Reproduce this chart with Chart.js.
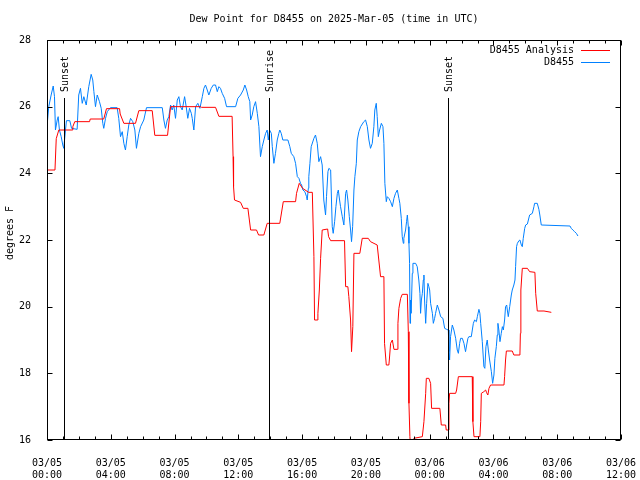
<!DOCTYPE html>
<html><head><meta charset="utf-8">
<script src="https://cdn.jsdelivr.net/npm/chart.js@4"></script>
<style>html,body{margin:0;padding:0;background:#fff}canvas{display:block}</style>
</head><body>
<canvas id="c" width="640" height="480"></canvas>
<script>
const titleText = 'Dew Point for D8455 on 2025-Mar-05 (time in UTC)';
const yTitle = 'degrees F';
const seriesNames = ['D8455 Analysis', 'D8455'];
const seriesColors = ['#ff0000', '#0080ff'];
const xTickDates = ['03/05','03/05','03/05','03/05','03/05','03/05','03/06','03/06','03/06','03/06'];
const xTickTimes = ['00:00','04:00','08:00','12:00','16:00','20:00','00:00','04:00','08:00','12:00'];
const eventHours = [1.07, 13.93, 25.16];
const eventLabels = ['Sunset', 'Sunrise', 'Sunset'];

// hours since 03/05 00:00 UTC
const analysisHours = [
0.00,0.50,0.58,0.74,1.58,1.62,1.74,2.67,2.71,3.56,
3.73,4.55,4.59,4.82,5.55,5.76,6.60,6.76,7.56,7.75,
9.63,9.69,10.57,10.78,11.61,11.67,11.70,11.76,12.14,12.31,
12.60,12.77,13.14,13.27,13.60,13.81,14.60,14.82,15.59,15.65,
15.82,16.03,16.41,16.64,16.74,16.78,16.95,16.99,17.08,17.16,
17.26,17.60,17.66,17.79,18.66,18.73,18.87,18.93,19.04,19.10,
19.18,19.25,19.62,19.77,20.15,20.29,20.71,20.92,21.13,21.17,
21.28,21.44,21.47,21.55,21.66,21.76,21.97,22.01,22.07,22.18,
22.28,22.60,22.66,22.70,22.76,22.80,22.99,23.01,23.54,23.64,
23.75,23.79,23.95,24.06,24.12,24.64,24.73,25.00,25.04,25.17,
25.21,25.25,25.63,25.69,25.80,26.67,26.71,26.78,27.15,27.20,
27.24,27.40,27.51,27.57,27.65,27.72,27.82,28.66,28.70,28.76,
28.81,29.18,29.28,29.66,29.69,29.72,29.81,30.13,30.27,30.60,
30.65,30.75,31.17,31.63];
const analysisValues = [
24.1,24.1,25.04,25.3,25.3,25.4,25.55,25.55,25.63,25.63,
25.94,25.94,25.78,25.5,25.5,25.88,25.88,25.14,25.14,26.0,
26.0,25.98,25.98,25.71,25.71,24.5,23.6,23.2,23.13,22.95,
22.95,22.3,22.3,22.15,22.15,22.5,22.5,23.15,23.15,23.4,
23.7,23.55,23.43,23.43,21.5,19.6,19.6,19.8,20.5,21.45,
22.3,22.33,22.1,21.98,21.98,20.6,20.6,20.3,19.6,18.65,
19.4,21.6,21.6,22.05,22.05,21.95,21.85,20.9,20.9,18.9,
18.25,18.25,18.4,18.9,19.0,18.72,18.72,19.5,19.95,20.25,
20.37,20.37,19.25,17.1,16.1,15.8,15.8,16.05,16.1,16.55,
17.4,17.85,17.85,17.7,16.95,16.95,16.45,16.45,16.3,16.3,
17.1,17.4,17.4,17.5,17.9,17.9,16.55,16.1,16.1,16.55,
17.4,17.45,17.5,17.42,17.35,17.55,17.65,17.65,17.9,18.4,
18.67,18.67,18.55,18.55,19.2,20.5,21.15,21.15,21.05,21.03,
20.4,19.87,19.87,19.83];

const obsHours = [
0.00,0.11,0.26,0.39,0.47,0.53,0.64,0.70,0.78,0.89,
0.99,1.05,1.16,1.22,1.43,1.54,1.89,1.99,2.10,2.21,
2.31,2.46,2.62,2.77,2.87,2.94,3.04,3.15,3.29,3.40,
3.50,3.56,3.67,3.78,3.98,4.40,4.50,4.61,4.72,4.82,
4.92,5.03,5.13,5.24,5.38,5.51,5.61,5.76,5.87,6.07,
6.24,7.23,7.33,7.43,7.54,7.64,7.75,7.85,7.95,8.06,
8.17,8.27,8.37,8.48,8.63,8.73,8.83,8.94,9.05,9.11,
9.21,9.32,9.46,9.59,9.74,9.84,9.94,10.05,10.15,10.30,
10.43,10.57,10.68,10.78,10.88,10.99,11.14,11.26,11.83,11.97,
12.14,12.31,12.41,12.52,12.62,12.72,12.77,12.87,12.97,13.08,
13.19,13.29,13.39,13.50,13.60,13.71,13.81,13.88,13.96,14.07,
14.13,14.23,14.33,14.44,14.54,14.60,14.69,14.79,15.11,15.23,
15.32,15.48,15.59,15.70,15.80,15.90,15.97,16.05,16.17,16.28,
16.32,16.39,16.42,16.49,16.57,16.74,16.84,16.95,17.05,17.16,
17.26,17.36,17.47,17.53,17.62,17.68,17.79,17.89,17.95,18.04,
18.12,18.21,18.27,18.35,18.41,18.52,18.62,18.73,18.79,18.87,
18.96,19.04,19.10,19.17,19.25,19.31,19.40,19.46,19.56,19.67,
19.87,19.98,20.09,20.19,20.29,20.40,20.50,20.56,20.65,20.71,
20.78,20.86,20.97,21.07,21.13,21.19,21.28,21.34,21.44,21.55,
21.66,21.76,21.86,21.97,22.07,22.13,22.22,22.28,22.35,22.38,
22.49,22.55,22.60,22.66,22.70,22.74,22.77,22.80,22.84,22.91,
22.95,23.12,23.22,23.32,23.39,23.43,23.48,23.54,23.60,23.64,
23.68,23.75,23.81,23.89,23.95,24.00,24.06,24.17,24.23,24.31,
24.37,24.48,24.58,24.69,24.83,24.94,25.06,25.17,25.21,25.25,
25.31,25.42,25.52,25.63,25.73,25.80,25.88,25.94,26.05,26.15,
26.25,26.32,26.40,26.46,26.61,26.74,26.82,26.93,26.99,27.09,
27.15,27.20,27.30,27.40,27.46,27.53,27.61,27.68,27.76,27.87,
27.95,28.03,28.09,28.18,28.24,28.28,28.34,28.41,28.49,28.56,
28.62,28.70,28.76,28.83,28.87,28.93,29.02,29.12,29.18,29.28,
29.35,29.39,29.45,29.50,29.60,29.66,29.75,29.81,29.87,29.96,
30.02,30.13,30.19,30.27,30.44,30.54,30.58,30.75,30.85,30.91,
31.00,32.80,32.88,32.98,33.09,33.20,33.30];
const obsValues = [
25.4,26.0,26.35,26.62,26.3,25.3,25.6,25.7,25.3,25.1,
24.85,24.75,25.3,25.58,25.58,25.35,25.32,26.35,26.55,26.1,
26.3,26.05,26.6,26.97,26.8,26.45,26.0,26.35,26.15,25.95,
25.5,25.35,25.65,25.85,25.97,25.97,25.65,25.1,25.25,24.9,
24.7,25.1,25.45,25.65,25.55,25.3,24.75,25.2,25.4,25.6,
25.97,25.97,25.6,25.35,25.6,25.7,26.05,25.9,26.05,25.65,
26.2,26.3,26.0,25.9,26.3,26.0,25.65,25.95,25.8,25.65,
25.3,26.0,26.1,25.95,26.3,26.55,26.65,26.5,26.35,26.55,
26.65,26.65,26.45,26.6,26.55,26.4,26.25,26.0,26.0,26.25,
26.35,26.5,26.65,26.5,26.3,26.15,25.6,25.75,26.0,26.15,
25.8,25.4,24.5,24.8,25.0,25.2,25.3,25.0,25.3,25.2,
24.8,24.3,24.6,25.0,25.2,25.3,25.2,25.0,25.0,24.8,
24.6,24.5,24.3,23.9,23.85,23.7,23.65,23.5,23.45,23.3,
23.2,23.55,23.9,24.3,24.8,25.05,25.15,24.9,24.35,24.5,
24.25,23.2,22.75,23.3,24.05,24.15,24.1,22.4,22.2,22.55,
23.0,23.4,23.5,23.2,23.0,22.7,22.45,23.4,23.5,23.2,
22.7,22.3,21.95,22.4,23.5,23.9,24.3,25.0,25.25,25.4,
25.55,25.6,25.4,25.0,24.75,24.9,25.4,25.9,26.1,25.7,
25.1,25.3,25.5,25.4,24.9,23.7,23.15,23.3,23.25,23.15,
23.0,23.25,23.4,23.5,23.25,23.1,22.65,22.1,21.9,22.05,
22.3,22.55,22.75,22.4,21.9,21.3,19.5,20.2,19.8,21.0,
21.3,21.3,21.2,20.8,20.4,19.8,20.2,20.4,20.8,20.95,
20.2,19.5,20.1,20.7,20.6,20.5,20.1,19.8,19.5,19.65,
19.8,20.05,19.9,19.7,19.65,19.35,19.32,19.3,18.65,18.4,
19.1,19.45,19.3,19.05,18.7,18.6,18.9,19.05,19.05,18.9,
18.65,18.85,19.05,19.1,19.1,19.5,19.6,19.55,19.7,19.92,
19.8,19.5,18.95,18.2,18.15,18.8,19.0,18.7,18.4,18.05,
17.7,17.95,18.45,18.8,19.15,19.5,19.3,18.95,19.2,19.4,
19.3,19.6,20.0,20.05,19.9,19.7,20.0,20.35,20.5,20.65,
20.8,21.2,21.8,21.9,21.98,22.0,21.85,21.8,22.05,22.35,
22.45,22.48,22.6,22.75,22.8,23.0,23.1,23.1,22.92,22.75,
22.45,22.42,22.35,22.3,22.25,22.2,22.12];

function pairs(xs, ys) {
  const n = Math.min(xs.length, ys.length), out = [];
  for (let i = 0; i < n; i++) out.push({x: xs[i], y: ys[i]});
  return out;
}

const FONT = '"DejaVu Sans Mono", "Liberation Mono", monospace';
Chart.defaults.font.family = FONT;
Chart.defaults.font.size = 10;
Chart.defaults.color = '#000';

const decor = {
  id: 'decor',
  afterDatasetsDraw(chart) {
    const {ctx, chartArea: a, scales: {x, y}} = chart;
    const L = Math.floor(a.left) + 0.5, R = Math.round(a.right) - 0.5;
    const T = Math.floor(a.top) + 0.5, B = Math.round(a.bottom) - 0.5;
    ctx.save();
    ctx.strokeStyle = '#000'; ctx.fillStyle = '#000'; ctx.lineWidth = 1;
    ctx.font = '10px ' + FONT;
    // sunrise / sunset markers
    eventHours.forEach((h, i) => {
      const px = Math.round(x.getPixelForValue(h)) + 0.5;
      ctx.beginPath(); ctx.moveTo(px, a.top + 58); ctx.lineTo(px, B); ctx.stroke();
      ctx.save(); ctx.translate(px + 1, a.top + 52); ctx.rotate(-Math.PI / 2);
      ctx.textAlign = 'left'; ctx.textBaseline = 'middle';
      ctx.fillText(eventLabels[i], 0, 0); ctx.restore();
    });
    // ticks (inward, all four sides)
    ctx.beginPath();
    for (let h = 0; h <= 36; h += 1) {
      const px = Math.round(x.getPixelForValue(h)) + 0.5;
      const len = (h % 4 === 0) ? 5 : 3;
      ctx.moveTo(px, B); ctx.lineTo(px, B - len);
      ctx.moveTo(px, T); ctx.lineTo(px, T + len);
    }
    for (let v = 16; v <= 28; v += 2) {
      const py = Math.round(y.getPixelForValue(v)) + 0.5;
      ctx.moveTo(L, py); ctx.lineTo(L + 5, py);
      ctx.moveTo(R, py); ctx.lineTo(R - 5, py);
    }
    ctx.stroke();
    // frame
    ctx.strokeRect(L, T, R - L, B - T);
    ctx.restore();
  },
  afterDraw(chart) {
    const {ctx, chartArea: a} = chart;
    ctx.save();
    ctx.fillStyle = '#000';
    ctx.font = '10px ' + FONT;
    // title
    ctx.textAlign = 'center'; ctx.textBaseline = 'middle';
    ctx.fillText(titleText, (a.left + a.right) / 2, 19);
    // y axis title
    ctx.save(); ctx.translate(10, 233); ctx.rotate(-Math.PI / 2);
    ctx.fillText(yTitle, 0, 0); ctx.restore();
    // legend
    ctx.textAlign = 'right';
    chart.data.datasets.forEach((ds, i) => {
      const yy = 50 + i * 12;
      ctx.fillStyle = '#000';
      ctx.fillText(ds.label, 574, yy);
      ctx.strokeStyle = ds.borderColor; ctx.lineWidth = 1;
      ctx.beginPath(); ctx.moveTo(581, yy + 0.5); ctx.lineTo(610, yy + 0.5); ctx.stroke();
    });
    ctx.restore();
  }
};

new Chart(document.getElementById('c'), {
  type: 'line',
  data: {
    datasets: [
      {label: seriesNames[0], data: pairs(analysisHours, analysisValues), borderColor: seriesColors[0], borderWidth: 1, pointRadius: 0, tension: 0, fill: false},
      {label: seriesNames[1], data: pairs(obsHours, obsValues), borderColor: seriesColors[1], borderWidth: 1, pointRadius: 0, tension: 0, fill: false}
    ]
  },
  options: {
    responsive: false,
    devicePixelRatio: 1,
    animation: false,
    layout: {padding: {top: 40, right: 19, left: 0, bottom: 0}},
    plugins: {legend: {display: false}, title: {display: false}, tooltip: {enabled: false}},
    scales: {
      x: {
        type: 'linear', min: 0, max: 36,
        grid: {display: false}, border: {display: false},
        afterFit(s) { s.height = 40; s.paddingLeft = 0; s.paddingRight = 0; },
        afterBuildTicks(s) { s.ticks = xTickTimes.map((t, i) => ({value: i * 4})); },
        ticks: {
          autoSkip: false, maxRotation: 0, padding: 9,
          callback: (v) => [xTickDates[Math.round(v / 4)], xTickTimes[Math.round(v / 4)]]
        }
      },
      y: {
        min: 16, max: 28,
        grid: {display: false}, border: {display: false},
        afterFit(s) { s.width = 47; s.paddingTop = 0; s.paddingBottom = 0; },
        ticks: {stepSize: 2, padding: 8}
      }
    }
  },
  plugins: [decor]
});
</script>
</body></html>
